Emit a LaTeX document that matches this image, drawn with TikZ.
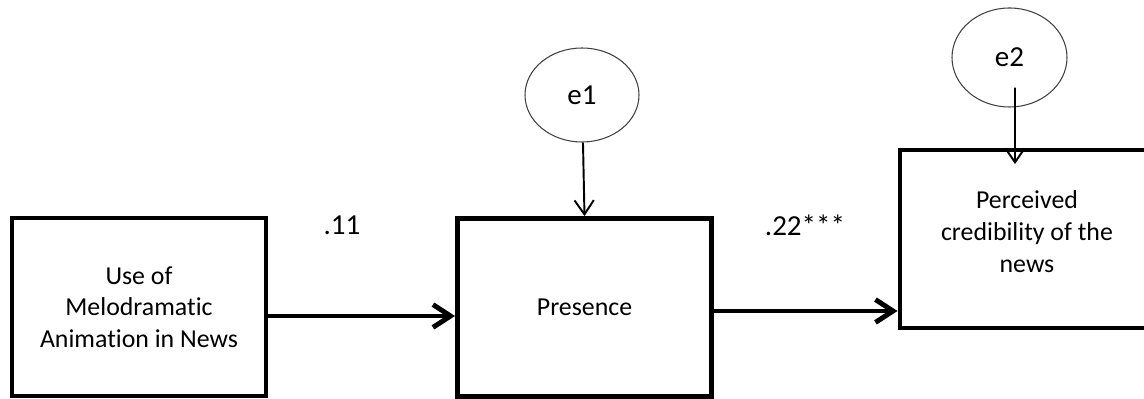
\documentclass[tikz,border=0pt]{standalone}
\usepackage{fontspec}
\setmainfont[Ligatures=NoCommon]{Carlito}
\usetikzlibrary{arrows.meta, positioning, shapes.geometric}

\begin{document}
\begin{tikzpicture}[>={Straight Barb[length=10pt,width=13pt]}]
    \tikzstyle{var}=[draw=black, line width=2.8pt, rectangle, minimum width=5.08cm, minimum height=3.56cm, align=center, inner sep=0pt, font=\fontsize{14.7}{18}\selectfont]
    \tikzstyle{err}=[draw=black!75, line width=0.6pt, ellipse, inner sep=0pt, font=\fontsize{16.5}{20}\selectfont]
    \tikzstyle{coef}=[font=\fontsize{16.5}{20}\selectfont]
    \tikzstyle{effect}=[->, line width=2.8pt]
    \tikzstyle{resid}=[-{Straight Barb[length=8pt,width=11pt]}, line width=1.1pt]

    \useasboundingbox (0,0) rectangle (22.88,-7.98);
    \clip (0,0) rectangle (22.88,-7.98);

    % variables
    \node[var] (use) at (2.78,-6.14) {Use of\\Melodramatic\\Animation in News};
    \node[var] (pres) at (11.69,-6.15) {Presence};
    \node[var, text depth=0.3cm] (cred) at (20.54,-4.78) {Perceived\\credibility of the\\news};

    % error terms
    \node[err, minimum width=2.28cm, minimum height=1.88cm] (e1) at (11.64,-1.90) {e1};
    \node[err, minimum width=2.3cm, minimum height=1.98cm] (e2) at (20.19,-1.15) {e2};

    % coefficients
    \node[coef] (b1) at (6.84,-4.5) {.11};
    \node[coef] (b2) at (16.1,-4.5) {.22***};

    \draw[effect] ([yshift=-0.18cm]use.east) -- ([yshift=-0.18cm]use.east -| pres.west);
    \draw[effect] ([yshift=-0.07cm]pres.east) -- ([yshift=-0.07cm]pres.east -| cred.west);
    \draw[resid] (e1) -- (pres.north);
    \draw[resid] ([shift={(0.11,0.4)}]e2.south) -- ([shift={(-0.24,-0.33)}]cred.north);
\end{tikzpicture}
\end{document}
